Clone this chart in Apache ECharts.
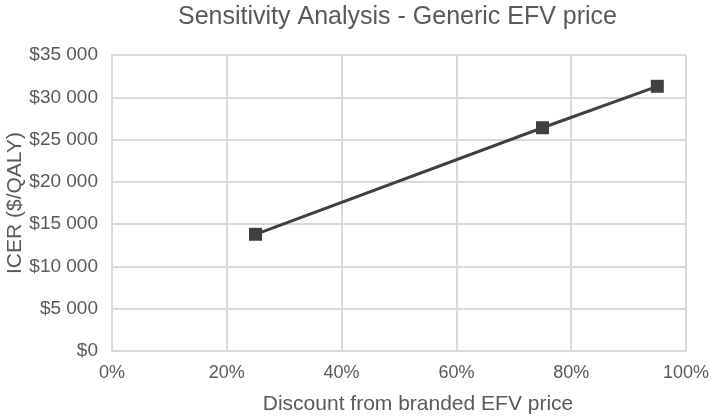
<!DOCTYPE html>
<html><head><meta charset="utf-8">
<script src="https://cdn.jsdelivr.net/npm/echarts@6/dist/echarts.min.js"></script>
<style>html,body{margin:0;padding:0;background:#fff}#c{width:711px;height:418px}</style>
</head><body><div id="c"></div>
<script>
const title = 'Sensitivity Analysis - Generic EFV price';
const xName = 'Discount from branded EFV price';
const yName = 'ICER ($/QALY)';
const discounts = [25, 75, 95];
const icer = [13800, 26400, 31300];

const chart = echarts.init(document.getElementById('c'));
const fmtMoney = v => '$' + String(v).replace(/\B(?=(\d{3})+(?!\d))/g, ' ');
chart.setOption({
  animation: false,
  title: {text: title, left: 173, top: 0, textStyle: {fontFamily: 'Liberation Sans', fontSize: 25, fontWeight: 'normal', color: '#595959'}},
  grid: {left: 112, right: 25, top: 55, bottom: 67, containLabel: false, outerBoundsMode: 'none'},
  xAxis: {
    type: 'value', min: 0, max: 100, interval: 20,
    name: xName, nameLocation: 'middle', nameGap: 43, nameMoveOverlap: false,
    nameTextStyle: {fontFamily: 'Liberation Sans', fontSize: 21, color: '#595959', padding: [0, 0, 0, 38]},
    axisLine: {lineStyle: {color: '#d9d9d9', width: 2}},
    axisTick: {show: false},
    axisLabel: {formatter: v => v + '%', fontFamily: 'Liberation Sans', fontSize: 18, color: '#595959', margin: 13},
    splitLine: {lineStyle: {color: '#d9d9d9', width: 2}}
  },
  yAxis: {
    type: 'value', min: 0, max: 35000, interval: 5000,
    name: yName, nameLocation: 'middle', nameGap: 86, nameMoveOverlap: false,
    nameTextStyle: {fontFamily: 'Liberation Sans', fontSize: 21, color: '#595959'},
    axisLine: {show: true, lineStyle: {color: '#d9d9d9', width: 2}},
    axisTick: {show: false},
    axisLabel: {formatter: fmtMoney, fontFamily: 'Liberation Sans', fontSize: 19, color: '#595959', margin: 14},
    splitLine: {lineStyle: {color: '#d9d9d9', width: 2}}
  },
  series: [{
    type: 'line',
    data: discounts.map((d, i) => [d, icer[i]]),
    symbol: 'rect', symbolSize: 13,
    lineStyle: {color: '#404040', width: 3},
    itemStyle: {color: '#404040'}
  }]
});
</script></body></html>
